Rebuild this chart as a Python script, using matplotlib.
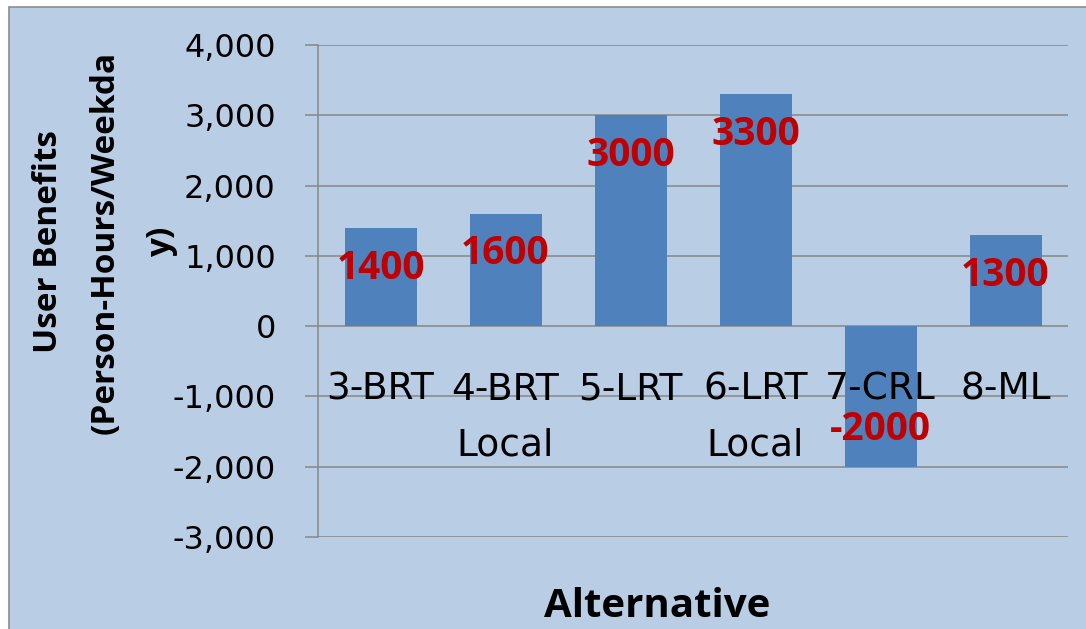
import matplotlib
matplotlib.use("Agg")
import matplotlib.pyplot as plt
from matplotlib.patches import Rectangle
from matplotlib.ticker import FuncFormatter, FixedLocator

# Weekday user benefits by alternative
alternatives = ["3-BRT", "4-BRT\nLocal", "5-LRT", "6-LRT\nLocal", "7-CRL", "8-ML"]
benefits = [1400, 1600, 3000, 3300, -2000, 1300]
y_ticks = [-3000, -2000, -1000, 0, 1000, 2000, 3000, 4000]

BAR_BLUE = "#4F81BD"
PANEL_BLUE = "#B9CDE5"
GRID_GRAY = "#878787"
LABEL_RED = "#C00000"

W, H = 1086, 629
fig = plt.figure(figsize=(W / 100, H / 100), dpi=100, facecolor="white")

# chart-area panel with a gray border
panel = Rectangle((9 / W, -0.05), 1.2, 1 - 7 / H + 0.05, transform=fig.transFigure,
                  facecolor=PANEL_BLUE, edgecolor="#8C8C8C", linewidth=1.2, zorder=-5)
fig.patches.append(panel)

left, right, top, bottom = 318, 1068, 45, 537
ax = fig.add_axes([left / W, 1 - bottom / H, (right - left) / W, (bottom - top) / H])
ax.set_facecolor("none")
ax.set_zorder(2)

x = list(range(len(alternatives)))
ax.bar(x, benefits, width=0.576, color=BAR_BLUE, zorder=2)

ax.set_xlim(-0.5, len(alternatives) - 0.5)
ax.set_ylim(y_ticks[0], y_ticks[-1])

# y axis: Excel-style outside ticks, thousands separators
ax.yaxis.set_major_locator(FixedLocator(y_ticks))
ax.yaxis.set_major_formatter(FuncFormatter(lambda v, _: f"{int(v):,}"))
ax.tick_params(axis="y", direction="out", length=9.4, width=1.1, color=GRID_GRAY,
               pad=21, labelsize=23, labelcolor="black")
ax.grid(axis="y", color=GRID_GRAY, linewidth=1.1)
ax.set_axisbelow(True)

# category labels hang under the zero line, drawn over the bars
ax.spines["bottom"].set_position(("data", 0))
ax.spines["bottom"].set_visible(False)
ax.spines["top"].set_visible(False)
ax.spines["right"].set_visible(False)
ax.spines["left"].set_color(GRID_GRAY)
ax.spines["left"].set_linewidth(1.1)
ax.set_xticks(x)
ax.set_xticklabels(alternatives, fontsize=27, linespacing=1.68)
ax.tick_params(axis="x", length=0, pad=33)
ax.xaxis.set_zorder(5)

# value labels just inside the bar ends
for xi, v in zip(x, benefits):
    off = -29 if v >= 0 else 27
    ax.annotate(f"{v}", (xi, v), xytext=(0, off), textcoords="offset points",
                ha="center", va="center", color=LABEL_RED, fontsize=28,
                fontweight="bold", family="Open Sans", zorder=6)

fig.text(105 / W, 1 - 242 / H, "User Benefits\n(Person-Hours/Weekda\ny)",
         rotation=90, ha="center", va="center", multialignment="center",
         fontsize=24, fontweight="bold", family="Open Sans", linespacing=1.95)
fig.text(657 / W, 1 - 617 / H, "Alternative", ha="center", va="baseline",
         fontsize=29, fontweight="bold", family="Open Sans")

fig.savefig("out.png", dpi=100, facecolor="white")
